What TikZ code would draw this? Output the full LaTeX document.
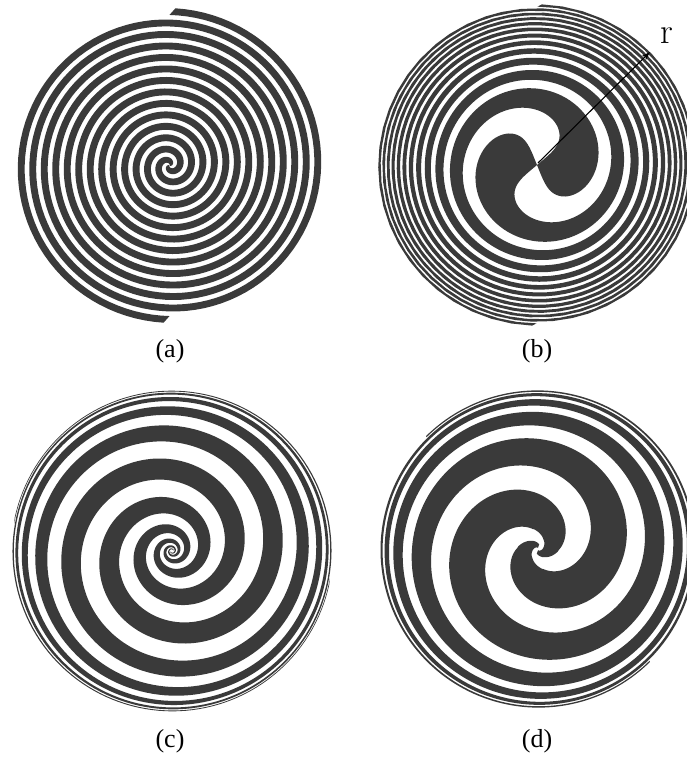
\documentclass[tikz,border=0pt]{standalone}
\usepackage{fontspec}
\newfontfamily\capfont{Liberation Serif}
\usetikzlibrary{arrows.meta}
\definecolor{ink}{RGB}{58,58,58}
\begin{document}
\begin{tikzpicture}[x=1pt,y=1pt,
  arm/.style={fill=ink,draw=none},
  caption/.style={font=\capfont\fontsize{26}{26}\selectfont,inner sep=0pt},
  declare function={
    pha(\u)=-2320+2410*\u;
    phb(\u)=166+2013*pow(\u,3.5);
    phc(\v)=90+230*\v;
    rc(\v)=162*atan(exp(\v))/90;
    ud(\s)=1-exp(-4.6*\s);
    phd(\s)=-2+230*ln(1/cos(90*ud(\s)))+65*ln(ud(\s));
    rd(\s)=161*ud(\s);
  }]
\useasboundingbox (0,0) rectangle (687,-757);
% (a)
\begin{scope}[shift={(169.5,-165.5)}]
 \foreach \rot in {0,180}{
  \fill[arm,rotate=\rot] plot[domain=0.001:1.0224,samples=700] ({pha(\x)-54}:{154*\x})
     -- plot[domain=0.9776:0.001,samples=700] ({pha(\x)+54}:{154*\x}) -- cycle;
 }
\end{scope}
% (b)
\begin{scope}[shift={(537,-165)}]
 \foreach \rot in {0,180}{
  \fill[arm,rotate=\rot] plot[domain=0.002:1.0174,samples=1000] ({phb(\x)-54}:{158*\x})
     -- plot[domain=1.0024:0.002,samples=1000] ({phb(\x)+54}:{158*\x}) -- cycle;
 }
\end{scope}
% (c)
\begin{scope}[shift={(172,-551)}]
 \foreach \rot in {0,180}{
  \fill[arm,rotate=\rot] plot[domain=-4.0:4.47,samples=800] ({phc(\x)-48}:{rc(\x)})
     -- plot[domain=4.053:-4.417,samples=800] ({phc(\x)+48}:{rc(\x)}) -- cycle;
 }
\end{scope}
% (d)
\begin{scope}[shift={(538,-549)}]
 \foreach \rot in {0,180}{
  \fill[arm,rotate=\rot] plot[domain=0.0066:0.9598,samples=900] ({phd(\x)-54}:{rd(\x)})
    -- plot[domain=0.8578:0.00124,samples=900] ({phd(\x)+54}:{rd(\x)}) -- cycle;
 }
\end{scope}
% arrow r
\coordinate (bc) at (538,-163);
\coordinate (bt) at (650,-52);
\draw[-{Stealth[length=9pt,width=6pt]},line width=1.1pt] (bc) -- (bt);
\node[font=\fontsize{36}{36}\selectfont,inner sep=0pt] (rl) at (667,-36) {r};
% captions
\node[caption] (la) at (170,-351) {(a)};
\node[caption] (lb) at (537,-351) {(b)};
\node[caption] (lc) at (170,-741) {(c)};
\node[caption] (ld) at (537,-741) {(d)};
\end{tikzpicture}
\end{document}
